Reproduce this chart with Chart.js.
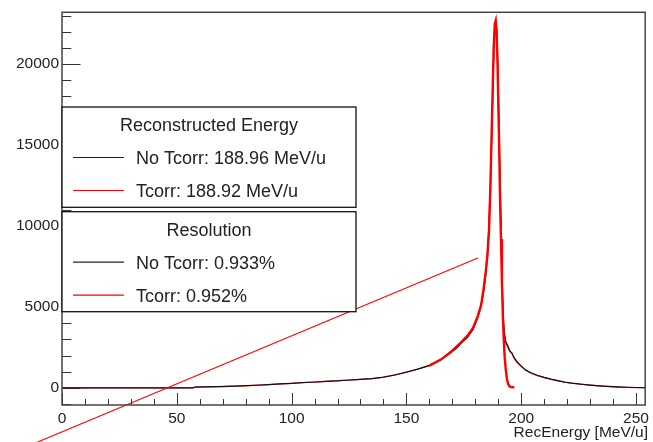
<!DOCTYPE html>
<html><head><meta charset="utf-8">
<script src="https://cdn.jsdelivr.net/npm/chart.js@4"></script>
<style>html,body{margin:0;padding:0;background:#fff}#c{display:block}</style>
</head><body>
<canvas id="c" width="653" height="442"></canvas>
<script>
// ---- tick labels ----
const xTicks = [0, 50, 100, 150, 200, 250];
const yTicks = [0, 5000, 10000, 15000, 20000];
const xTitle = 'RecEnergy [MeV/u]';

// ---- No Tcorr histogram (black) ----
const noTcorrX = [0, 57, 58, 62, 66, 70, 75, 80, 85, 90, 95, 100, 105, 110, 115, 120, 125, 130, 135, 140, 145, 150, 155, 160, 163, 166, 169, 172, 174, 176.5, 179, 181, 182.5, 183.5, 184.4, 185.2, 185.9, 186.5, 187.1, 187.6, 188.1, 188.5, 188.9, 189.3, 189.7, 190.1, 190.5, 190.9, 191.3, 191.7, 192.1, 192.6, 193.3, 194.2, 195, 196, 197, 198, 200, 202, 204.5, 207, 210, 213, 216, 219, 222, 226, 230, 234, 238, 242, 246, 250, 254];
const noTcorrY = [0, 0, 55, 60, 75, 85, 105, 140, 165, 205, 245, 285, 330, 365, 410, 440, 490, 525, 575, 670, 800, 980, 1160, 1390, 1580, 1840, 2140, 2480, 2790, 3120, 3600, 4300, 5000, 5800, 6800, 8000, 9600, 12000, 15000, 18000, 20800, 22300, 22600, 22200, 20600, 18000, 15200, 12200, 9500, 6800, 4700, 3500, 2850, 2600, 2300, 2150, 1850, 1650, 1350, 1100, 920, 780, 650, 545, 450, 360, 300, 230, 175, 130, 90, 60, 40, 25, 15];

// ---- Tcorr histogram (red) ----
const tcorrX = [0, 57, 58, 62, 66, 70, 75, 80, 85, 90, 95, 100, 105, 110, 115, 120, 125, 130, 135, 140, 145, 150, 155, 160, 163, 166, 169, 172, 174, 176.5, 179, 181, 182.5, 183.5, 184.4, 185.2, 185.9, 186.5, 187.1, 187.6, 188.1, 188.5, 188.9, 189.3, 189.7, 190.1, 190.5, 190.9, 191.3, 191.7, 192.1, 192.6, 193.3, 194.2, 195, 196, 197, 198, 200, 202, 204.5, 207, 210, 213, 216, 219, 222, 226, 230, 234, 238, 242, 246, 250, 254];
const tcorrY = [0, 0, 50, 65, 70, 90, 110, 130, 170, 200, 250, 280, 335, 360, 405, 450, 480, 530, 570, 660, 810, 970, 1170, 1380, 1600, 1850, 2150, 2500, 2800, 3100, 3650, 4350, 5100, 5900, 7000, 8200, 9900, 12600, 15400, 18400, 21200, 22500, 22400, 21800, 20000, 17200, 14400, 11400, 8800, 6200, 4300, 3300, 2750, 2500, 2250, 2100, 1800, 1600, 1330, 1080, 900, 760, 640, 530, 440, 350, 290, 225, 170, 125, 85, 55, 35, 22, 12];

// ---- Tcorr peak curve (red, thick) ----
const fitX = [160, 165, 170, 174, 177, 179, 181, 182.5, 183.5, 184.5, 185.3, 186, 186.6, 187, 187.5, 188, 188.5, 188.9, 189.3, 189.7, 190.1, 190.4, 190.8, 191.2, 191.6, 192, 192.4, 192.8, 193.3, 193.8, 194.3, 194.8, 195.5, 197];
const fitY = [1380, 1750, 2300, 2850, 3300, 3700, 4400, 5100, 6000, 7100, 8200, 9800, 12500, 15000, 18000, 21000, 22500, 22700, 22000, 20000, 17000, 15000, 11500, 9200, 6500, 4500, 3000, 1900, 1100, 550, 250, 110, 50, 40];

// ---- straight red line ----
const lineX = [-12, 181.1];
const lineY = [-3425, 8018];

// ---- legend texts ----
const legendTitles = ['Reconstructed Energy', 'Resolution'];
const legendEntries = [
  ['No Tcorr: 188.96 MeV/u', 'Tcorr: 188.92 MeV/u'],
  ['No Tcorr: 0.933%', 'Tcorr: 0.952%']
];
const entryColors = ['#222222', '#ff0000'];

const pts = (xs, ys) => xs.map((x, i) => ({x: x, y: ys[i]}));
const FONT = '"Liberation Sans", Arial, Helvetica, sans-serif';

const decor = {
  id: 'decor',
  beforeDatasetsDraw(chart) {
    const {ctx, chartArea: a, scales: {x, y}} = chart;
    ctx.save();
    ctx.strokeStyle = '#333';
    ctx.lineWidth = 1;
    ctx.beginPath();
    // y ticks (inward)
    for (let v = -1000; v <= 23000; v += 1000) {
      const py = Math.round(y.getPixelForValue(v)) + 0.5;
      if (py < a.top || py > a.bottom) continue;
      const len = (v % 5000 === 0) ? 18.5 : 9.3;
      ctx.moveTo(a.left, py); ctx.lineTo(a.left + len, py);
    }
    // x ticks (inward)
    for (let v = 0; v <= 250; v += 10) {
      const px = Math.round(x.getPixelForValue(v)) + 0.5;
      const len = (v % 50 === 0) ? 12 : 6;
      ctx.moveTo(px, a.bottom); ctx.lineTo(px, a.bottom - len);
    }
    ctx.stroke();
    ctx.restore();
  },
  afterDatasetsDraw(chart) {
    const {ctx, chartArea: a} = chart;
    ctx.save();
    // frame
    ctx.strokeStyle = '#444';
    ctx.lineWidth = 1.5;
    ctx.strokeRect(a.left, a.top, a.right - a.left, a.bottom - a.top);
    // legend boxes
    const boxes = [{top: 107, h: 100.3}, {top: 211.7, h: 100}];
    const L = 62, R = 356;
    boxes.forEach((b, i) => {
      ctx.fillStyle = '#fff';
      ctx.fillRect(L, b.top, R - L, b.h);
      ctx.strokeStyle = '#111';
      ctx.lineWidth = 1.3;
      ctx.strokeRect(L, b.top, R - L, b.h);
      ctx.font = '18px ' + FONT;
      ctx.fillStyle = '#222';
      ctx.textBaseline = 'middle';
      ctx.textAlign = 'center';
      ctx.fillText(legendTitles[i], 209, b.top + 19);
      ctx.textAlign = 'left';
      legendEntries[i].forEach((t, j) => {
        const cy = b.top + 51 + j * 33;
        ctx.strokeStyle = entryColors[j];
        ctx.lineWidth = 1.2;
        ctx.beginPath();
        ctx.moveTo(73, cy - 0.5); ctx.lineTo(124, cy - 0.5);
        ctx.stroke();
        ctx.fillStyle = '#222';
        ctx.fillText(t, 136, cy + 1);
      });
    });
    // x-axis title
    ctx.font = '15.5px ' + FONT;
    ctx.fillStyle = '#222';
    ctx.textAlign = 'right';
    ctx.textBaseline = 'middle';
    ctx.fillText(xTitle, 648, 433);
    ctx.restore();
  }
};

new Chart(document.getElementById('c'), {
  type: 'scatter',
  data: {
    datasets: [
      {label: 'Tcorr', data: pts(tcorrX, tcorrY), showLine: true, borderColor: '#ff2020', borderWidth: 1.2, pointRadius: 0, order: 4},
      {label: 'No Tcorr', data: pts(noTcorrX, noTcorrY), showLine: true, borderColor: '#111', borderWidth: 1.2, pointRadius: 0, order: 3},
      {label: 'Tcorr peak', data: pts(fitX, fitY), showLine: true, borderColor: '#ff0000', borderWidth: 2.4, pointRadius: 0, order: 2},
      {label: 'line', data: pts(lineX, lineY), showLine: true, borderColor: '#ff0000', borderWidth: 1.1, pointRadius: 0, clip: false, order: 1}
    ]
  },
  options: {
    responsive: false,
    animation: false,
    devicePixelRatio: 1,
    layout: {padding: {left: 0, right: 4, top: 7, bottom: 0}},
    plugins: {legend: {display: false}, tooltip: {enabled: false}},
    scales: {
      x: {
        type: 'linear', min: 0, max: 254,
        afterBuildTicks: s => { s.ticks = xTicks.map(v => ({value: v})); },
        afterFit: s => { s.height = 37; },
        grid: {display: false, drawTicks: false},
        border: {display: false},
        ticks: {font: {family: FONT, size: 15.5}, color: '#222', padding: 4, maxRotation: 0, autoSkip: false, callback: v => String(v)}
      },
      y: {
        type: 'linear', min: -1055, max: 23200,
        afterBuildTicks: s => { s.ticks = yTicks.map(v => ({value: v})); },
        afterFit: s => { s.width = 62; },
        grid: {display: false, drawTicks: false},
        border: {display: false},
        ticks: {font: {family: FONT, size: 15.5}, color: '#222', padding: 3, callback: v => String(v)}
      }
    }
  },
  plugins: [decor]
});
</script>
</body></html>
